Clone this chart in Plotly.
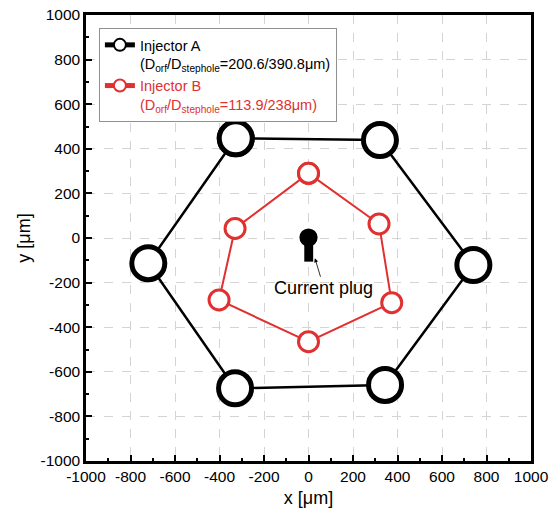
import plotly.graph_objects as go

# ---- data ----
inj_a_x = [-327, 321, 741, 344, -330, -720, -327]
inj_a_y = [447, 439, -121, -659, -674, -113, 447]
inj_b_x = [0, 317, 374, 0, -402, -330, 0]
inj_b_y = [290, 63, -290, -465, -278, 43, 290]

plug_head = [0, 2, 41]            # x, y, radius
plug_stem = [-19, 21, -106, 0]    # x0, x1, y0, y1
plug_tip = [29, -91]

tick_vals = [-1000, -800, -600, -400, -200, 0, 200, 400, 600, 800, 1000]
tick_text = ["-1000", "-800", "-600", "-400", "-200", "0", "200", "400", "600", "800", "1000"]

name_a = "Injector A<br>(D<sub>orf</sub>/D<sub>stephole</sub>=200.6/390.8\u03bcm)"
name_b = ("<span style='color:#E0302F'>Injector B</span><br>"
          "<span style='color:#E0302F'>(D<sub>orf</sub>/D<sub>stephole</sub>=113.9/238\u03bcm)</span>")

RED = "#E0302F"
FONT = "Liberation Sans, Arial, sans-serif"

fig = go.Figure()
fig.add_trace(go.Scatter(
    x=inj_a_x, y=inj_a_y, mode="lines+markers", name=name_a,
    line=dict(color="black", width=2.5),
    marker=dict(size=33, color="white", line=dict(color="black", width=5)),
))
fig.add_trace(go.Scatter(
    x=inj_b_x, y=inj_b_y, mode="lines+markers", name=name_b,
    line=dict(color=RED, width=2),
    marker=dict(size=20, color="white", line=dict(color=RED, width=3)),
))

# current plug
fig.add_shape(type="circle", xref="x", yref="y",
              x0=plug_head[0] - plug_head[2], x1=plug_head[0] + plug_head[2],
              y0=plug_head[1] - plug_head[2], y1=plug_head[1] + plug_head[2],
              fillcolor="black", line=dict(width=0))
fig.add_shape(type="rect", xref="x", yref="y",
              x0=plug_stem[0], x1=plug_stem[1], y0=plug_stem[2], y1=plug_stem[3],
              fillcolor="black", line=dict(width=0))
fig.add_annotation(x=plug_tip[0], y=plug_tip[1], text="Current plug",
                   showarrow=True, arrowhead=2, arrowsize=1, arrowwidth=0.8,
                   arrowcolor="black", ax=9, ay=30,
                   font=dict(family=FONT, size=18, color="black"))

axis_common = dict(
    range=[-1000, 1000], tickvals=tick_vals, ticktext=tick_text,
    showgrid=True, gridcolor="#d4d4d4", griddash="dash", gridwidth=1,
    zeroline=False, showline=True, linecolor="black", linewidth=2.5, mirror=True,
    ticks="inside", ticklen=6, tickwidth=2, tickcolor="black",
    minor=dict(ticks="inside", ticklen=3, tickwidth=2, tickcolor="black", dtick=100, showgrid=False),
    tickfont=dict(family=FONT, size=15.5, color="black"),
    fixedrange=True, automargin=False, ticklabeloverflow="allow",
)

fig.update_layout(
    width=554, height=518,
    margin=dict(l=86, r=23, t=15, b=57),
    paper_bgcolor="white", plot_bgcolor="white",
    font=dict(family=FONT, color="black"),
    xaxis=dict(axis_common, title=dict(text="x [\u03bcm]", font=dict(family=FONT, size=18), standoff=8)),
    yaxis=dict(axis_common, title=dict(text="y [\u03bcm]", font=dict(family=FONT, size=18), standoff=6)),
    legend=dict(x=0.029, y=0.971, xanchor="left", yanchor="top",
                bgcolor="white", bordercolor="#909090", borderwidth=1,
                font=dict(family=FONT, size=14.5, color="black"),
                itemsizing="constant", valign="top", tracegroupgap=0,
                itemwidth=30),
    showlegend=True,
)

# remove the default 8px page margin so the figure fills the window exactly
fig.write_html("out.html",
               config={"displayModeBar": False},
               post_script="document.body.style.margin='0';document.body.style.overflow='hidden';")
